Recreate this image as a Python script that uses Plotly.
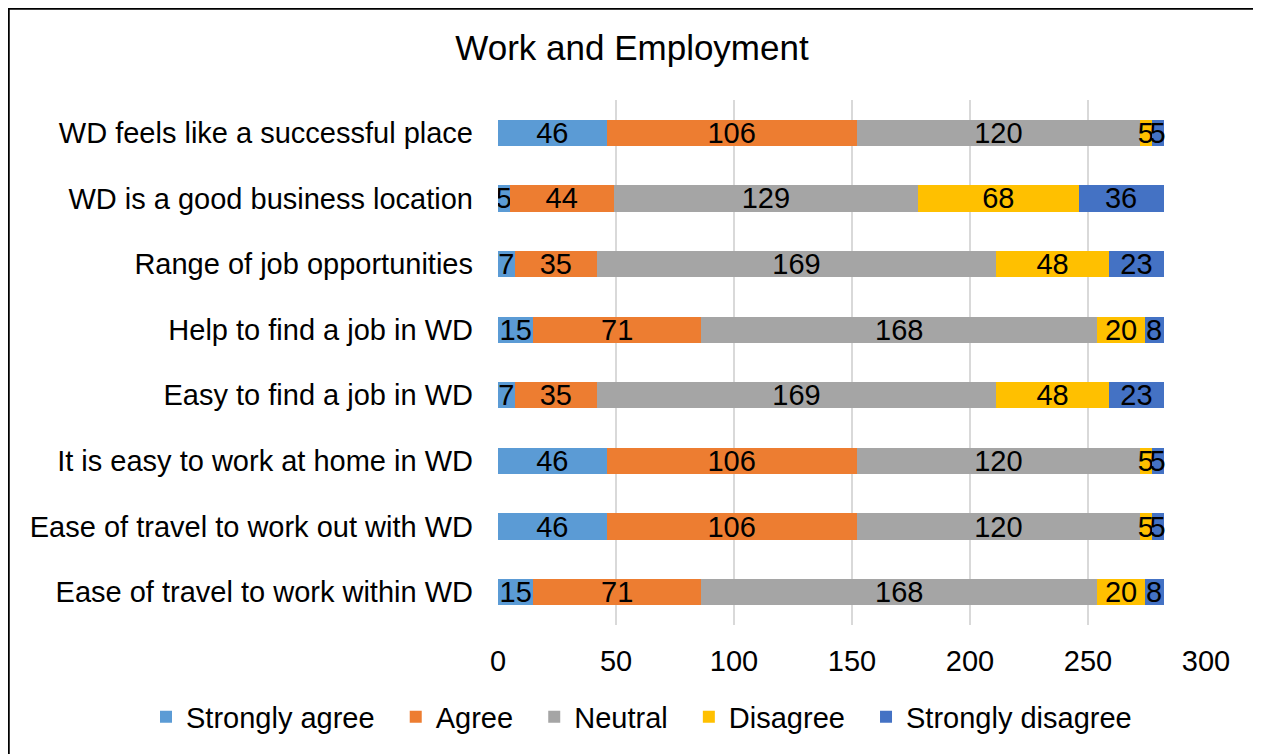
import plotly.graph_objects as go

categories = [
    "WD feels like a successful place",
    "WD is a good business location",
    "Range of job opportunities",
    "Help to find a job in WD",
    "Easy to find a job in WD",
    "It is easy to work at home in WD",
    "Ease of travel to work out with WD",
    "Ease of travel to work within WD",
]
strongly_agree = [46, 5, 7, 15, 7, 46, 46, 15]
agree = [106, 44, 35, 71, 35, 106, 106, 71]
neutral = [120, 129, 169, 168, 169, 120, 120, 168]
disagree = [5, 68, 48, 20, 48, 5, 5, 20]
strongly_disagree = [5, 36, 23, 8, 23, 5, 5, 8]

series = [
    ("Strongly agree", strongly_agree, "#5B9BD5"),
    ("Agree", agree, "#ED7D31"),
    ("Neutral", neutral, "#A5A5A5"),
    ("Disagree", disagree, "#FFC000"),
    ("Strongly disagree", strongly_disagree, "#4472C4"),
]

FONT = "Liberation Sans, Arial, sans-serif"
PAD = "\u00a0\u00a0"

fig = go.Figure()
for name, vals, color in series:
    fig.add_trace(go.Bar(
        y=categories, x=vals, name=name + PAD, orientation="h",
        marker=dict(color=color, line=dict(width=0)),
        text=[str(v) for v in vals], textposition="inside",
        insidetextanchor="middle", textangle=0,
        textfont=dict(color="black", size=29, family=FONT),
        width=0.4,
    ))

# figure-pixel layout (page body adds an 8px offset in the screenshot)
W, H = 1261, 754
L, R, T, B = 490, 1198, 92, 617
pw, ph = R - L, B - T

def px_x(p):
    return (p - L) / pw

def px_y(p):
    return (B - p) / ph

fig.update_layout(
    width=W, height=H,
    barmode="stack",
    margin=dict(l=L, r=W - R, t=T, b=H - B, autoexpand=False),
    paper_bgcolor="white", plot_bgcolor="white",
    font=dict(family=FONT, size=29, color="black"),
    title=dict(text="Work and Employment", x=624 / W, xref="container", xanchor="center",
               y=1 - 40 / H, yanchor="middle", yref="container",
               font=dict(size=35, color="black", family=FONT)),
    uniformtext=dict(minsize=29, mode="show"),
    legend=dict(orientation="h", x=px_x(138), xanchor="left",
                y=px_y(709), yanchor="middle",
                font=dict(size=29, color="black", family=FONT),
                traceorder="normal"),
    xaxis=dict(range=[0, 300], dtick=50, tick0=0, showgrid=True,
               gridcolor="#D9D9D9", gridwidth=2, zeroline=False,
               showline=False, ticks="", ticklabelstandoff=16,
               tickfont=dict(size=29, color="black")),
    yaxis=dict(autorange="reversed", showgrid=False, showline=False,
               ticks="", ticklabelstandoff=24,
               tickfont=dict(size=29, color="black")),
    shapes=[dict(type="rect", xref="paper", yref="paper",
                 x0=px_x(0.5), x1=px_x(1251), y0=px_y(0.5), y1=px_y(780),
                 line=dict(color="black", width=2.5), fillcolor="rgba(0,0,0,0)",
                 layer="above")],
)

fig.write_html("out.html")
